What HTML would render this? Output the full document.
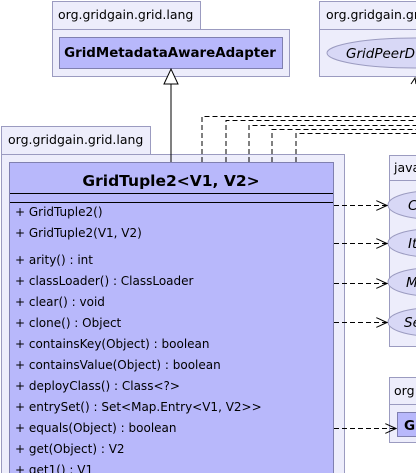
<!DOCTYPE html>
<html><head><style>body{margin:0;background:#fff}svg{display:block}</style></head><body>
<svg width="416" height="473" xmlns="http://www.w3.org/2000/svg" font-family="DejaVu Sans, sans-serif">
<defs>
<marker id="oa" markerWidth="12" markerHeight="10" refX="11" refY="5" orient="auto" markerUnits="userSpaceOnUse">
<path d="M0,0 L11,5 L0,10" fill="none" stroke="#000" stroke-width="1"/>
</marker>
</defs>
<g stroke="#9b9bc0" fill="#ededfb">
<rect x="52.5" y="1.5" width="148" height="28"/>
<rect x="52.5" y="29.5" width="237" height="47"/>
<rect x="319.5" y="1.5" width="100" height="28"/>
<rect x="319.5" y="29.5" width="100" height="47"/>
<rect x="1.5" y="126.5" width="149" height="28"/>
<rect x="1.5" y="154.5" width="343" height="330"/>
<rect x="389.5" y="155.5" width="40" height="25"/>
<rect x="389.5" y="180.5" width="40" height="166"/>
<rect x="389.5" y="377.5" width="40" height="27"/>
<rect x="389.5" y="404.5" width="40" height="38"/>
</g>
<g stroke="#8080b0" fill="#b8b8fb">
<rect x="59.5" y="37.5" width="223" height="31"/>
<rect x="9.5" y="162.5" width="324" height="320"/>
<rect x="397.5" y="412.5" width="30" height="24"/>
</g>
<g stroke="#9b9bc0" fill="#d8d8f6">
<ellipse cx="415" cy="53" rx="88" ry="15"/>
<ellipse cx="430" cy="205" rx="42" ry="14"/>
<ellipse cx="430" cy="243" rx="42" ry="14"/>
<ellipse cx="430" cy="282" rx="42" ry="14"/>
<ellipse cx="430" cy="322" rx="42" ry="14"/>
</g>
<line x1="10" y1="193.5" x2="333" y2="193.5" stroke="#000"/>
<line x1="10" y1="202.5" x2="333" y2="202.5" stroke="#000"/>
<g font-size="12.5" fill="#000">
<text x="58" y="19">org.gridgain.grid.lang</text>
<text x="326" y="19">org.gridgain.grid.</text>
<text x="8" y="144">org.gridgain.grid.lang</text>
<text x="394" y="172">java</text>
<text x="394" y="395">org</text>
</g>
<text x="170" y="57" font-size="13.4" font-weight="bold" text-anchor="middle">GridMetadataAwareAdapter</text>
<text x="346" y="58" font-size="13.5" font-style="italic">GridPeerD</text>
<text x="171" y="186" font-size="15.5" font-weight="bold" text-anchor="middle">GridTuple2&lt;V1, V2&gt;</text>
<g font-size="13.5" font-style="italic">
<text x="408" y="210">C</text><text x="408" y="248">It</text><text x="406" y="287">M</text><text x="404" y="327">Se</text>
</g>
<text x="404" y="430" font-size="13.5" font-weight="bold">G</text>
<g font-size="12" fill="#000">
<text x="15" y="216">+ GridTuple2()</text>
<text x="15" y="237">+ GridTuple2(V1, V2)</text>
<text x="15" y="264">+ arity() : int</text>
<text x="15" y="285">+ classLoader() : ClassLoader</text>
<text x="15" y="306">+ clear() : void</text>
<text x="15" y="327">+ clone() : Object</text>
<text x="15" y="348">+ containsKey(Object) : boolean</text>
<text x="15" y="369">+ containsValue(Object) : boolean</text>
<text x="15" y="390">+ deployClass() : Class&lt;?&gt;</text>
<text x="15" y="411">+ entrySet() : Set&lt;Map.Entry&lt;V1, V2&gt;&gt;</text>
<text x="15" y="432">+ equals(Object) : boolean</text>
<text x="15" y="453">+ get(Object) : V2</text>
<text x="15" y="474">+ get1() : V1</text>
</g>
<line x1="171" y1="162" x2="171" y2="84" stroke="#000"/>
<path d="M164,84 L171,69 L178,84 Z" fill="#fff" stroke="#000"/>
<g stroke="#000" fill="none" stroke-dasharray="5,3">
<path d="M202,162 V116.5 H416"/>
<path d="M226,162 V120.5 H416"/>
<path d="M249,162 V125.5 H416"/>
<path d="M272,162 V129.5 H416"/>
<path d="M296,162 V133.5 H416"/>
<path d="M334,205.5 H387" marker-end="url(#oa)"/>
<path d="M334,243.5 H387" marker-end="url(#oa)"/>
<path d="M334,283.5 H387" marker-end="url(#oa)"/>
<path d="M334,322.5 H387" marker-end="url(#oa)"/>
<path d="M334,428.5 H396" marker-end="url(#oa)"/>
</g>
<path d="M411,84 L415,78 L416,84" fill="none" stroke="#000"/>
</svg>
</body></html>
